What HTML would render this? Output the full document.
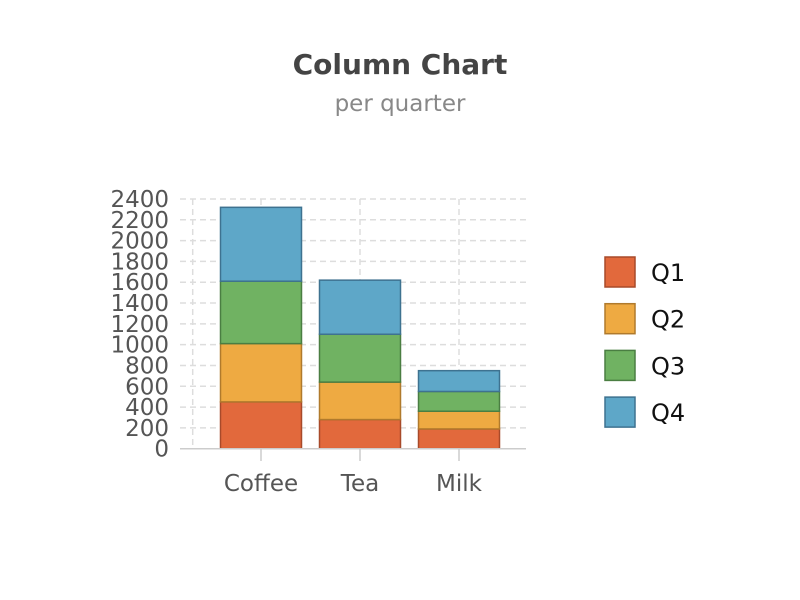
<!DOCTYPE html>
<html><head><meta charset="utf-8"><style>
body{margin:0;background:#fff;}
svg{display:block;font-family:"DejaVu Sans","Liberation Sans",sans-serif;}
</style></head><body>
<svg id="chart" width="800" height="600">
<text x="400" y="74" text-anchor="middle" font-size="28" font-weight="bold" fill="#444">Column Chart</text>
<text x="400" y="111" text-anchor="middle" font-size="23" fill="#888">per quarter</text>
<g id="grid"></g><g id="bars"></g><g id="axes"></g><g id="legend"></g>
</svg>
<script>
const categories = ["Coffee", "Tea", "Milk"];
const seriesNames = ["Q1", "Q2", "Q3", "Q4"];
const q1 = [450, 280, 190];
const q2 = [560, 360, 170];
const q3 = [600, 460, 190];
const q4 = [710, 520, 200];
const yTicks = [0,200,400,600,800,1000,1200,1400,1600,1800,2000,2200,2400];
const series = [q1, q2, q3, q4];
const fills = ["#e2693c", "#eeaa42", "#70b262", "#5ea7c8"];
const strokes = ["#a84a2a", "#b07a2c", "#4a7e42", "#3e7290"];
const NS = "http://www.w3.org/2000/svg";
const y0 = 448.7, yTop = 199, yMax = 2400;
const y = v => y0 - v / yMax * (y0 - yTop);
const bandStart = 211.5, band = 99, barPad = 9;
const xc = i => bandStart + band * i + band / 2;
function mk(tag, attrs, parent) {
  const e = document.createElementNS(NS, tag);
  for (const k in attrs) e.setAttribute(k, attrs[k]);
  parent.appendChild(e);
  return e;
}
const grid = document.getElementById("grid"), bars = document.getElementById("bars"),
      axes = document.getElementById("axes"), legend = document.getElementById("legend");
yTicks.forEach(t => {
  if (t > 0) {
    const l = mk("line", {x1: 180, x2: 526, y1: y(t), y2: y(t), stroke: "#ddd", "stroke-width": 1.5, "stroke-dasharray": "6,4"}, grid);
    
    
  }
  const tx = mk("text", {x: 169, y: y(t) + 8, "text-anchor": "end", "font-size": 23, fill: "#555"}, axes);
  tx.textContent = t;
  
  
});
const vg = [192.7].concat(categories.map((c, i) => xc(i)));
vg.forEach((x, k) => {
  const l = mk("line", {x1: x, x2: x, y1: yTop, y2: y0, stroke: "#ddd", "stroke-width": 1.5, "stroke-dasharray": "6,4"}, grid);
  
  
});
categories.forEach((c, i) => {
  let acc = 0;
  series.forEach((s, j) => {
    const v = s[i];
    const r = mk("rect", {x: xc(i) - band / 2 + barPad, y: y(acc + v), width: band - 2 * barPad, height: y(acc) - y(acc + v), fill: fills[j], stroke: strokes[j], "stroke-width": 1.5}, bars);
    
    
    acc += v;
  });
  const tk = mk("line", {x1: xc(i), x2: xc(i), y1: y0, y2: 461, stroke: "#ccc", "stroke-width": 1.5}, axes);
  
  
  const lb = mk("text", {x: xc(i), y: 491, "text-anchor": "middle", "font-size": 23, fill: "#555"}, axes);
  lb.textContent = c;
  
  
});
const ax = mk("line", {x1: 180, x2: 526, y1: y0, y2: y0, stroke: "#ccc", "stroke-width": 1.5}, axes);


seriesNames.forEach((n, j) => {
  const ty = 257 + j * 46.7;
  const r = mk("rect", {x: 605, y: ty, width: 30, height: 30, fill: fills[j], stroke: strokes[j], "stroke-width": 1.5}, legend);
  
  
  const t = mk("text", {x: 651, y: ty + 24, "font-size": 24, fill: "#111"}, legend);
  t.textContent = n;
  
  
});
</script>
</body></html>
